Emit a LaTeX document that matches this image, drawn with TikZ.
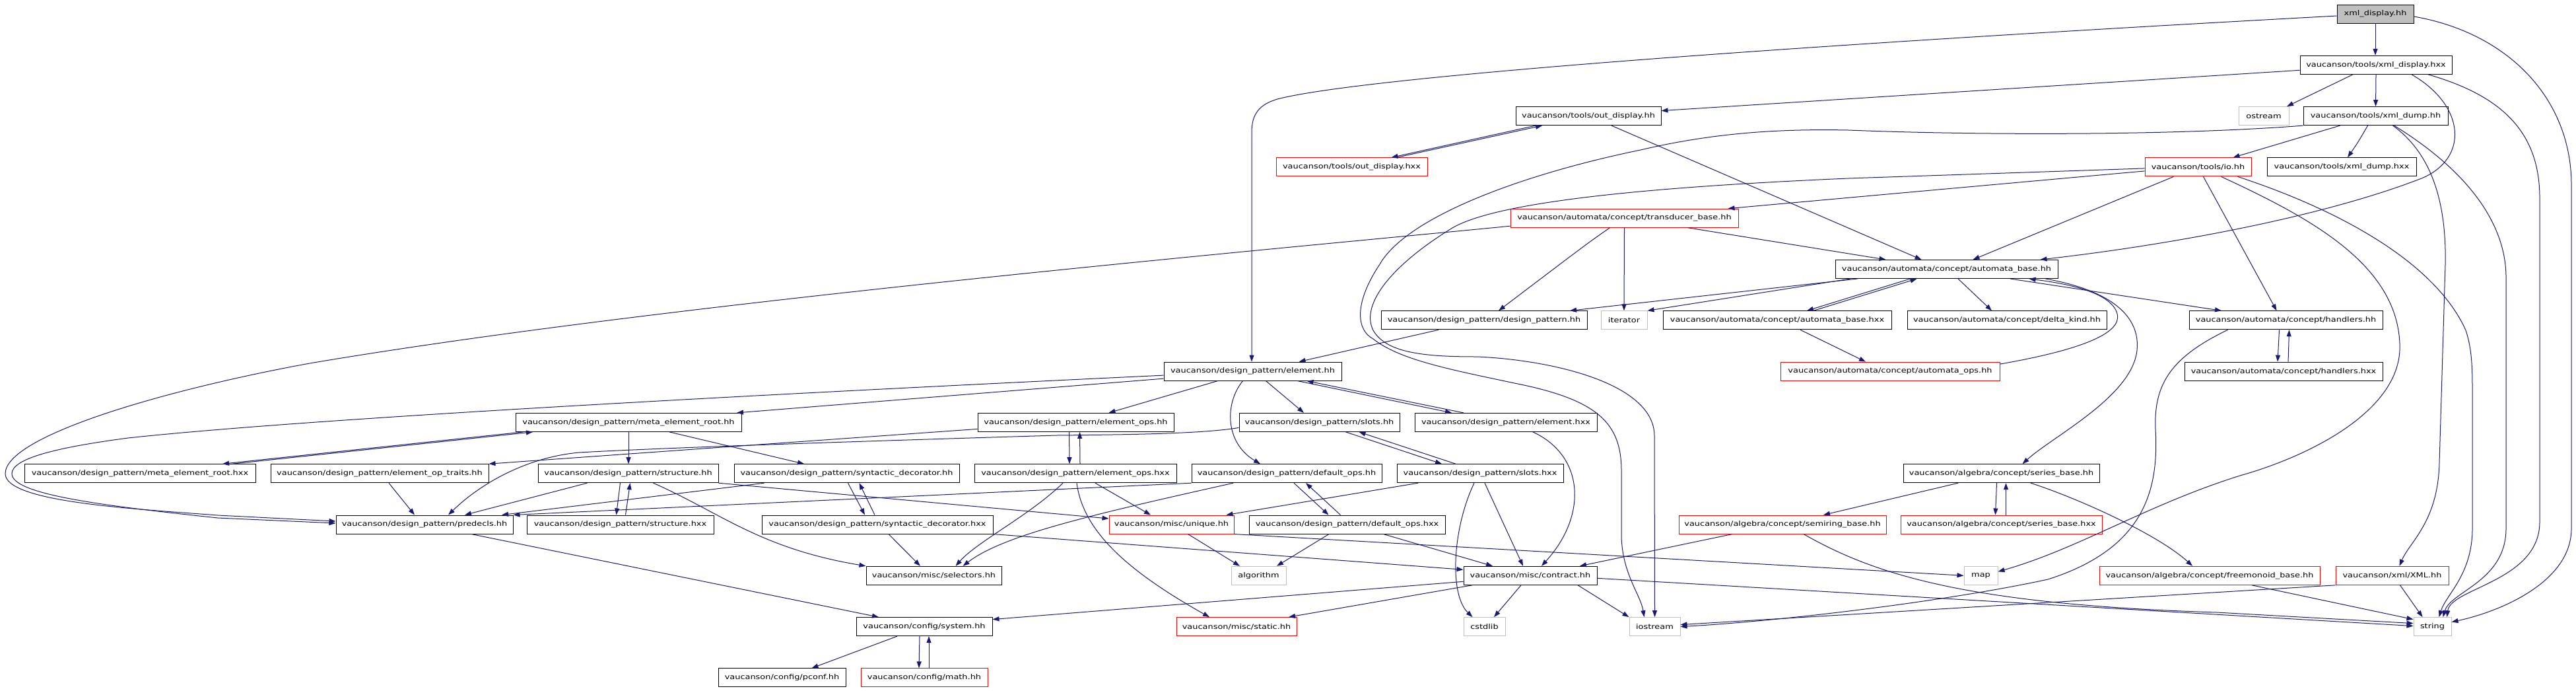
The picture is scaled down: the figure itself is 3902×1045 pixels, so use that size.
\documentclass[tikz,border=0pt]{standalone}
\usepackage{fontspec}
\usetikzlibrary{arrows.meta,calc}
\newfontfamily\dfont[FakeStretch=1.23]{DejaVu Sans}
\definecolor{edgec}{RGB}{25,25,112}
\definecolor{redc}{RGB}{255,0,0}
\definecolor{grayc}{RGB}{191,191,191}
\tikzset{
  nbox/.style={draw=black,fill=white,line width=1pt,inner sep=0pt,minimum height=28pt,font=\dfont\fontsize{10.5}{12}\selectfont,text=black},
  rbox/.style={nbox,draw=redc},
  gbox/.style={nbox,draw=grayc},
  tbox/.style={nbox,fill=grayc},
  dep/.style={draw=edgec,line width=1pt,-{Triangle[length=10pt,width=7pt]}}
}
\begin{document}
\begin{tikzpicture}[x=1pt,y=-1pt]
\useasboundingbox (0,0) rectangle (3902,1045);
\fill[white] (0,0) rectangle (3902,1045);
% nodes
\node[tbox,minimum width=116pt] (xdisp) at (3598,21) {xml\_display.hh};
\node[nbox,minimum width=230pt] (xdisphxx) at (3599,98.3) {vaucanson/tools/xml\_display.hxx};
\node[nbox,minimum width=220pt] (outdisp) at (2406,175.6) {vaucanson/tools/out\_display.hh};
\node[gbox,minimum width=76pt] (ostream) at (3429,175.6) {ostream};
\node[nbox,minimum width=219pt] (xdump) at (3598.5,175.6) {vaucanson/tools/xml\_dump.hh};
\node[rbox,minimum width=229pt] (outdisphxx) at (2047.5,252.9) {vaucanson/tools/out\_display.hxx};
\node[rbox,minimum width=161pt] (io) at (3329.5,252.9) {vaucanson/tools/io.hh};
\node[nbox,minimum width=226pt] (xdumphxx) at (3547,252.9) {vaucanson/tools/xml\_dump.hxx};
\node[rbox,minimum width=345pt] (tbase) at (2460.5,330.2) {vaucanson/automata/concept/transducer\_base.hh};
\node[nbox,minimum width=337pt] (abase) at (2948.5,407.5) {vaucanson/automata/concept/automata\_base.hh};
\node[nbox,minimum width=312pt] (dp) at (2248,484.8) {vaucanson/design\_pattern/design\_pattern.hh};
\node[gbox,minimum width=70pt] (iterator) at (2460,484.8) {iterator};
\node[nbox,minimum width=346pt] (abasehxx) at (2692,484.8) {vaucanson/automata/concept/automata\_base.hxx};
\node[nbox,minimum width=302pt] (delta) at (3040,484.8) {vaucanson/automata/concept/delta\_kind.hh};
\node[nbox,minimum width=293pt] (handlers) at (3462.5,484.8) {vaucanson/automata/concept/handlers.hh};
\node[nbox,minimum width=269pt] (element) at (1897.5,562.1) {vaucanson/design\_pattern/element.hh};
\node[rbox,minimum width=332pt] (aops) at (2863,562.1) {vaucanson/automata/concept/automata\_ops.hh};
\node[nbox,minimum width=300pt] (handlershxx) at (3459,562.1) {vaucanson/automata/concept/handlers.hxx};
\node[nbox,minimum width=342pt] (meta) at (952,639.4) {vaucanson/design\_pattern/meta\_element\_root.hh};
\node[nbox,minimum width=297pt] (eops) at (1629.5,639.4) {vaucanson/design\_pattern/element\_ops.hh};
\node[nbox,minimum width=243pt] (slots) at (1998.5,639.4) {vaucanson/design\_pattern/slots.hh};
\node[nbox,minimum width=276pt] (elementhxx) at (2281,639.4) {vaucanson/design\_pattern/element.hxx};
\node[nbox,minimum width=350pt] (metahxx) at (212,716.7) {vaucanson/design\_pattern/meta\_element\_root.hxx};
\node[nbox,minimum width=330pt] (eoptraits) at (575,716.7) {vaucanson/design\_pattern/element\_op\_traits.hh};
\node[nbox,minimum width=273pt] (structure) at (951.5,716.7) {vaucanson/design\_pattern/structure.hh};
\node[nbox,minimum width=341pt] (syndec) at (1282.5,716.7) {vaucanson/design\_pattern/syntactic\_decorator.hh};
\node[nbox,minimum width=306pt] (eopshxx) at (1629,716.7) {vaucanson/design\_pattern/element\_ops.hxx};
\node[nbox,minimum width=288pt] (defops) at (1949,716.7) {vaucanson/design\_pattern/default\_ops.hh};
\node[nbox,minimum width=252pt] (slotshxx) at (2242,716.7) {vaucanson/design\_pattern/slots.hxx};
\node[nbox,minimum width=297pt] (series) at (3031.5,716.7) {vaucanson/algebra/concept/series\_base.hh};
\node[nbox,minimum width=268pt] (predecls) at (643,794) {vaucanson/design\_pattern/predecls.hh};
\node[nbox,minimum width=283pt] (structurehxx) at (939.5,794) {vaucanson/design\_pattern/structure.hxx};
\node[nbox,minimum width=350pt] (syndechxx) at (1329,794) {vaucanson/design\_pattern/syntactic\_decorator.hxx};
\node[rbox,minimum width=189pt] (unique) at (1774.5,794) {vaucanson/misc/unique.hh};
\node[nbox,minimum width=297pt] (defopshxx) at (2040.5,794) {vaucanson/design\_pattern/default\_ops.hxx};
\node[rbox,minimum width=314pt] (semiring) at (2700,794) {vaucanson/algebra/concept/semiring\_base.hh};
\node[rbox,minimum width=305pt] (serieshxx) at (3031.5,794) {vaucanson/algebra/concept/series\_base.hxx};
\node[nbox,minimum width=205pt] (selectors) at (1414.5,871.3) {vaucanson/misc/selectors.hh};
\node[gbox,minimum width=83pt] (algorithm) at (1906.5,871.3) {algorithm};
\node[nbox,minimum width=202pt] (contract) at (2318,871.3) {vaucanson/misc/contract.hh};
\node[gbox,minimum width=51pt] (map) at (3000.5,871.3) {map};
\node[rbox,minimum width=334pt] (freemonoid) at (3347,871.3) {vaucanson/algebra/concept/freemonoid\_base.hh};
\node[rbox,minimum width=171pt] (xml) at (3623.5,871.3) {vaucanson/xml/XML.hh};
\node[nbox,minimum width=206pt] (system) at (1400,948.6) {vaucanson/config/system.hh};
\node[rbox,minimum width=182pt] (static) at (1873,948.6) {vaucanson/misc/static.hh};
\node[gbox,minimum width=63pt] (cstdlib) at (2248.5,948.6) {cstdlib};
\node[gbox,minimum width=77pt] (iostream) at (2506.5,948.6) {iostream};
\node[gbox,minimum width=57pt] (string) at (3684.5,948.6) {string};
\node[nbox,minimum width=193pt] (pconf) at (1184.5,1025.9) {vaucanson/config/pconf.hh};
\node[rbox,minimum width=192pt] (math) at (1400,1025.9) {vaucanson/config/math.hh};
% edges from the top files
\draw[dep] (xdisp.south) -- ([xshift=-1pt]xdisphxx.north);
\draw[dep] ([yshift=-3pt]xdisp.west) .. controls (2600,75) and (2050,120) .. (1935,150) .. controls (1908,158) and (1896,172) .. (1896,200) -- ([xshift=-1.5pt]element.north);
\draw[dep] ([yshift=-4pt]xdisp.east) .. controls (3800,50) and (3895,150) .. (3895,280) -- (3895,800) .. controls (3895,880) and (3790,925) .. ([yshift=7pt]string.east);
\draw[dep] ([yshift=-8pt]xdisphxx.west) -- ([yshift=8pt]outdisp.east);
\draw[dep] ([xshift=-35pt]xdisphxx.south) -- ([xshift=35pt]ostream.north);
\draw[dep] (xdisphxx.south) -- (xdump.north);
\draw[dep] ([xshift=54pt]xdisphxx.south) .. controls (3735,160) and (3740,240) .. (3668,270) .. controls (3500,335) and (3250,375) .. ([xshift=142pt]abase.north);
\draw[dep] ([xshift=79pt]xdisphxx.south) .. controls (3790,145) and (3847,200) .. (3847,300) -- (3847,790) .. controls (3847,880) and (3712,890) .. ([xshift=22pt]string.north);
\draw[dep] ([xshift=-54pt]xdump.south) -- ([xshift=53pt]io.north);
\draw[dep] ([xshift=-12pt]xdump.south) .. controls (3572,215) .. ([xshift=9pt]xdumphxx.north);
\draw[dep] (xdump.south west) .. controls (3300,205) and (3000,205) .. (2800,197) .. controls (2700,195) and (2600,200) .. (2485,227) .. controls (2300,265) and (2130,330) .. (2090,400) .. controls (2050,460) and (2055,500) .. (2080,513) .. controls (2120,545) and (2200,560) .. (2294,580) .. controls (2420,605) and (2456,640) .. (2456,713) -- (2456,813) .. controls (2458,870) and (2485,900) .. ([xshift=-16pt]iostream.north);
\draw[dep] ([xshift=26pt]xdump.south) .. controls (3680,230) and (3706,300) .. (3704,400) -- (3695,700) .. controls (3693,790) and (3650,820) .. ([xshift=11pt]xml.north);
\draw[dep] ([xshift=28pt]xdump.south) .. controls (3740,260) and (3796,340) .. (3796,420) -- (3796,800) .. controls (3796,880) and (3712,895) .. ([xshift=16pt]string.north);
\draw[dep] ([xshift=-80pt]outdisp.south) -- ([xshift=60pt]outdisphxx.north);
\draw[dep] ([xshift=68pt]outdisphxx.north) -- ([xshift=-70pt]outdisp.south);
\draw[dep] ([xshift=35pt]outdisp.south) -- ([xshift=-38pt]abase.north);
% io
\draw[dep] ([yshift=-6pt]io.west) -- ([xshift=157pt]tbase.north);
\draw[dep] ([yshift=-2pt]io.west) -- (2800,270) .. controls (2450,285) and (2260,310) .. (2200,345) .. controls (2110,400) and (2060,460) .. (2080,500) .. controls (2100,535) and (2160,540) .. (2238,540) .. controls (2350,545) and (2506,580) .. (2506,660) -- (iostream.north);
\draw[dep] ([xshift=-37pt]io.south) -- ([xshift=40pt]abase.north);
\draw[dep] ([xshift=8pt]io.south) -- ([xshift=-14pt]handlers.north);
\draw[dep] ([xshift=35pt]io.south) .. controls (3500,330) and (3630,400) .. (3635,520) .. controls (3640,620) and (3500,690) .. (3393,720) .. controls (3250,765) and (3150,830) .. ([yshift=6pt]map.east);
\draw[dep] ([xshift=60pt]io.south) .. controls (3550,320) and (3690,400) .. (3735,500) .. controls (3745,530) and (3745,560) .. (3745,600) -- (3745,800) .. controls (3745,870) and (3705,900) .. ([xshift=10pt]string.north);
% transducer_base
\draw[dep] ([yshift=-12pt]tbase.west) .. controls (1900,380) and (1000,460) .. (469,550) .. controls (250,590) and (8,660) .. (8,717) .. controls (8,760) and (200,770) .. (330,780) -- ([yshift=5pt]predecls.west);
\draw[dep] ([xshift=-22pt]tbase.south) .. controls (2405,368) .. ([xshift=22pt]dp.north);
\draw[dep] (tbase.south) -- (iterator.north);
\draw[dep] ([xshift=96pt]tbase.south) -- ([xshift=-92pt]abase.north);
% automata_base
\draw[dep] ([xshift=-135pt]abase.south) -- ([xshift=130pt]dp.north);
\draw[dep] ([xshift=-146pt]abase.south) -- (iterator.north east);
\draw[dep] ([xshift=-55pt]abase.south) -- ([xshift=45pt]abasehxx.north);
\draw[dep] ([xshift=55pt]abasehxx.north) -- ([xshift=-45pt]abase.south);
\draw[dep] ([xshift=17.5pt]abase.south) -- ([xshift=-23pt]delta.north);
\draw[dep] ([xshift=96.5pt]abase.south) -- ([xshift=-97.5pt]handlers.north);
\draw[dep] ([xshift=150pt]abase.south) .. controls (3200,440) and (3242,480) .. (3237,530) .. controls (3230,600) and (3110,660) .. ([xshift=32pt]series.north);
\draw[dep] ([xshift=35pt]abasehxx.south) -- ([xshift=-37pt]aops.north);
\draw[dep] ([yshift=11pt]aops.east) .. controls (3150,530) and (3215,505) .. (3207,475) .. controls (3198,440) and (3120,428) .. ([xshift=125pt]abase.south);
% handlers
\draw[dep] ([xshift=-10pt]handlers.south) -- ([xshift=-9pt]handlershxx.north);
\draw[dep] ([xshift=7pt]handlershxx.north) -- ([xshift=5pt]handlers.south);
\draw[dep] ([xshift=-88pt]handlers.south) .. controls (3290,540) and (3262,580) .. (3265,650) .. controls (3270,740) and (3250,830) .. (3102,877) .. controls (2950,910) and (2700,940) .. (iostream.east);
% element
\draw[dep] ([xshift=-69pt]dp.south) -- ([xshift=70pt]element.north);
\draw[dep] ([yshift=-11pt]element.west) -- ([xshift=164pt]meta.north);
\draw[dep] ([yshift=-6pt]element.west) .. controls (1300,590) and (500,630) .. (194,663) .. controls (80,678) and (18,695) .. (18,717) .. controls (18,748) and (150,765) .. (330,784) -- ([yshift=2pt]predecls.west);
\draw[dep] ([xshift=-53pt]element.south) -- ([xshift=50pt]eops.north);
\draw[dep] ([xshift=-15pt]element.south) .. controls (1855,610) and (1855,670) .. ([xshift=-40pt]defops.north);
\draw[dep] ([xshift=20pt]element.south) -- ([xshift=-23.5pt]slots.north);
\draw[dep] ([xshift=68pt]element.south) -- ([xshift=-82pt]elementhxx.north);
\draw[dep] ([xshift=-64pt]elementhxx.north) -- ([xshift=82pt]element.south);
% meta_element_root
\draw[dep] ([xshift=-160pt]meta.south) -- ([xshift=125pt]metahxx.north);
\draw[dep] ([xshift=140pt]metahxx.north) -- ([xshift=-145pt]meta.south);
\draw[dep] (meta.south) -- ([xshift=0.5pt]structure.north);
\draw[dep] ([xshift=62pt]meta.south) -- ([xshift=-64.5pt]syndec.north);
% element_ops, slots, element.hxx
\draw[dep] ([yshift=-10pt]eops.west) -- (eoptraits.north east);
\draw[dep] ([xshift=-10pt]eops.south) -- ([xshift=-9pt]eopshxx.north);
\draw[dep] ([xshift=7pt]eopshxx.north) -- ([xshift=6pt]eops.south);
\draw[dep] ([yshift=-8pt]slots.west) .. controls (1820,657) and (1700,658) .. (1600,659) .. controls (1300,668) and (1000,678) .. (877,685) .. controls (800,692) and (730,730) .. ([xshift=36pt]predecls.north);
\draw[dep] ([xshift=40pt]slots.south) -- ([xshift=-58pt]slotshxx.north);
\draw[dep] ([xshift=-37pt]slotshxx.north) -- ([xshift=60pt]slots.south);
\draw[dep] ([xshift=41pt]elementhxx.south) .. controls (2400,690) and (2405,780) .. ([xshift=17pt]contract.north);
\draw[dep] ([xshift=14pt]eoptraits.south) -- ([xshift=-15pt]predecls.north);
% structure
\draw[dep] ([xshift=-12pt]structure.south) -- ([xshift=-6pt]structurehxx.north);
\draw[dep] ([xshift=8pt]structurehxx.north) -- ([xshift=3pt]structure.south);
\draw[dep] ([xshift=-62pt]structure.south) -- ([xshift=61pt]predecls.north);
\draw[dep] ([xshift=38pt]structure.south) .. controls (1090,775) and (1150,830) .. (selectors.north west);
\draw[dep] (structure.south east) -- ([yshift=9pt]unique.west);
% syntactic_decorator
\draw[dep] ([xshift=2pt]syndec.south) -- ([xshift=-19pt]syndechxx.north);
\draw[dep] ([xshift=-4pt]syndechxx.north) -- ([xshift=19pt]syndec.south);
\draw[dep] ([xshift=-125pt]syndec.south) -- ([xshift=117pt]predecls.north);
% element_ops.hxx
\draw[dep] ([xshift=-19pt]eopshxx.south) .. controls (1560,780) and (1480,820) .. ([xshift=33pt]selectors.north);
\draw[dep] ([xshift=30pt]eopshxx.south) -- ([xshift=-31.5pt]unique.north);
\draw[dep] ([xshift=2pt]eopshxx.south) .. controls (1640,800) and (1700,860) .. ([xshift=-41pt]static.north);
% default_ops
\draw[dep] ([xshift=11pt]defops.south) -- ([xshift=-28pt]defopshxx.north);
\draw[dep] ([xshift=-10pt]defopshxx.north) -- ([xshift=29pt]defops.south);
\draw[dep] (defops.south west) -- (predecls.north east);
\draw[dep] ([xshift=-81pt]defops.south) .. controls (1650,780) and (1520,810) .. ([xshift=44pt]selectors.north);
% slots.hxx
\draw[dep] ([xshift=-94pt]slotshxx.south) -- ([xshift=83pt]unique.north);
\draw[dep] ([xshift=-9pt]slotshxx.south) .. controls (2200,800) and (2195,900) .. ([xshift=-18pt]cstdlib.north);
\draw[dep] ([xshift=7pt]slotshxx.south) -- ([xshift=-11pt]contract.north);
% series
\draw[dep] ([xshift=-65.5pt]series.south) -- ([xshift=62pt]semiring.north);
\draw[dep] ([xshift=-7pt]series.south) -- ([xshift=-9pt]serieshxx.north);
\draw[dep] ([xshift=7pt]serieshxx.north) -- ([xshift=7pt]series.south);
\draw[dep] ([xshift=44.5pt]series.south) .. controls (3150,755) and (3270,810) .. ([xshift=-26pt]freemonoid.north);
% lower rows
\draw[dep] ([xshift=71pt]predecls.south) -- ([xshift=-69pt]system.north);
\draw[dep] ([xshift=17pt]syndechxx.south) -- ([xshift=-20.5pt]selectors.north);
\draw[dep] (syndechxx.south east) -- ([yshift=9pt]contract.west);
\draw[dep] ([xshift=25pt]unique.south) -- ([xshift=-28.5pt]algorithm.north);
\draw[dep] (unique.south east) -- (map.west);
\draw[dep] ([xshift=-27.5pt]defopshxx.south) -- ([xshift=27.5pt]algorithm.north);
\draw[dep] ([xshift=55pt]defopshxx.south) -- ([xshift=-57pt]contract.north);
\draw[dep] ([xshift=-76pt]semiring.south) -- ([xshift=75pt]contract.north);
\draw[dep] ([xshift=32pt]semiring.south) .. controls (2840,870) and (2980,915) .. (3358,927) -- ([yshift=5pt]string.west);
\draw[dep] ([xshift=64pt]freemonoid.south) -- ([yshift=11pt]string.west);
\draw[dep] (xml.south west) -- ([yshift=3pt]iostream.east);
\draw[dep] ([xshift=12pt]xml.south) -- ([xshift=-15pt]string.north);
\draw[dep] ([yshift=-9pt]contract.west) -- ([yshift=11pt]system.east);
\draw[dep] ([xshift=-88pt]contract.south) -- ([xshift=79pt]static.north);
\draw[dep] ([xshift=-14pt]contract.south) -- ([xshift=14.5pt]cstdlib.north);
\draw[dep] ([xshift=72pt]contract.south) -- (iostream.north west);
\draw[dep] ([yshift=-4pt]contract.east) -- ([yshift=1pt]string.west);
\draw[dep] ([xshift=-41pt]system.south) -- ([xshift=45pt]pconf.north);
\draw[dep] ([xshift=-7pt]system.south) -- ([xshift=-8pt]math.north);
\draw[dep] ([xshift=7pt]math.north) -- ([xshift=7pt]system.south);
\end{tikzpicture}
\end{document}
